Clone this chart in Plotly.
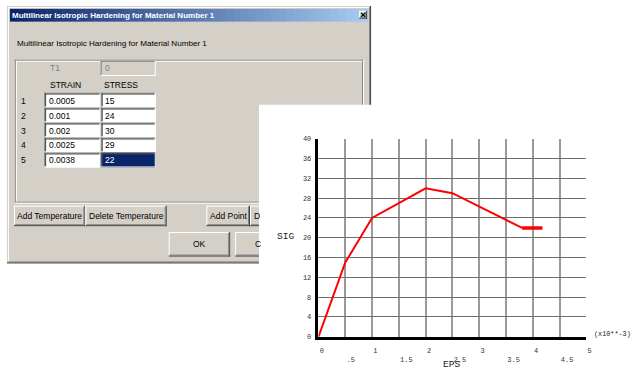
import plotly.graph_objects as go

# ---------------- data ----------------
strain = [0.0, 0.0005, 0.001, 0.002, 0.0025, 0.0038]
stress = [0, 15, 24, 30, 29, 22]
ext_strain = [0.0038, 0.00418]
ext_stress = [22, 22]

table_rows = ["1", "2", "3", "4", "5"]
table_strain = ["0.0005", "0.001", "0.002", "0.0025", "0.0038"]
table_stress = ["15", "24", "30", "29", "22"]

x_tickvals = [0, 0.5, 1, 1.5, 2, 2.5, 3, 3.5, 4, 4.5, 5]
x_ticktext = ["0", "<br>.5", "1", "<br>1.5", "2", "<br>2.5", "3", "<br>3.5", "4", "<br>4.5", "5"]
y_tickvals = [0, 4, 8, 12, 16, 20, 24, 28, 32, 36, 40]
y_ticktext = ["0", "4", "8", "12", "16", "20", "24", "28", "32", "36", "40"]

title_text = "Multilinear Isotropic Hardening for Material Number 1"

# ---------------- helpers (pixel -> paper) ----------------
W, H = 636, 377
def X(px): return px / W
def Y(py): return 1 - py / H

shapes = []
annotations = []
BG = "#d4d0c8"
DK = "#404040"
MD = "#808080"

def rect(x0, y0, x1, y1, fill):
    shapes.append(dict(type="rect", xref="paper", yref="paper", x0=X(x0), x1=X(x1),
                       y0=Y(y1), y1=Y(y0), fillcolor=fill, line=dict(width=0), layer="below"))

def line(x0, y0, x1, y1, color, w=1):
    shapes.append(dict(type="line", xref="paper", yref="paper", x0=X(x0), y0=Y(y0),
                       x1=X(x1), y1=Y(y1), line=dict(color=color, width=w), layer="below"))

def raised(x0, y0, x1, y1):
    rect(x0, y0, x1, y1, BG)
    line(x0, y0 + 0.5, x1, y0 + 0.5, "white")
    line(x0 + 0.5, y0, x0 + 0.5, y1, "white")
    line(x0, y1 - 0.5, x1, y1 - 0.5, DK)
    line(x1 - 0.5, y0, x1 - 0.5, y1, DK)
    line(x0 + 1, y1 - 1.5, x1 - 1, y1 - 1.5, MD)
    line(x1 - 1.5, y0 + 1, x1 - 1.5, y1 - 1, MD)

def sunken(x0, y0, x1, y1, fill):
    rect(x0, y0, x1, y1, fill)
    line(x0, y0 + 0.5, x1, y0 + 0.5, MD)
    line(x0 + 0.5, y0, x0 + 0.5, y1, MD)
    line(x0 + 1, y0 + 1.5, x1 - 1, y0 + 1.5, DK)
    line(x0 + 1.5, y0 + 1, x0 + 1.5, y1 - 1, DK)
    line(x0, y1 - 0.5, x1, y1 - 0.5, "white")
    line(x1 - 0.5, y0, x1 - 0.5, y1, "white")

def text(px, py, s, size=8.5, color="black", anchor="left", bold=False, family="Liberation Sans, Arial, sans-serif"):
    annotations.append(dict(xref="paper", yref="paper", x=X(px), y=Y(py), text=("<b>%s</b>" % s) if bold else s,
                            showarrow=False, xanchor=anchor, yanchor="middle",
                            font=dict(size=size, color=color, family=family)))

# ---------------- dialog window ----------------
rect(7, 2, 374, 265, BG)
line(7, 2.5, 374, 2.5, BG)
line(8, 3.5, 373, 3.5, "white")
line(8.5, 3, 8.5, 264, "white")
line(7, 264.5, 374, 264.5, DK)
line(373.5, 2, 373.5, 265, DK)
line(8, 263.5, 373, 263.5, MD)
line(372.5, 3, 372.5, 264, MD)

# title bar gradient
n = 48
x_start, x_end = 10, 371
c0 = (10, 36, 106)
c1 = (166, 202, 240)
for i in range(n):
    t = i / (n - 1)
    col = "rgb(%d,%d,%d)" % tuple(round(c0[k] + (c1[k] - c0[k]) * t) for k in range(3))
    xa = x_start + (x_end - x_start) * i / n
    xb = x_start + (x_end - x_start) * (i + 1) / n + 0.6
    rect(xa, 5, min(xb, x_end), 18, col)
text(10, 11.5, title_text, size=8, color="white", bold=True)
# close button
raised(362, 7, 370, 15)
line(364, 9, 368, 13, "black", 1.2)
line(368, 9, 364, 13, "black", 1.2)

text(15, 40, title_text, size=8.1)

# group box (etched)
line(15.5, 57, 15.5, 203, MD)
line(16.5, 58, 16.5, 202, "white")
line(15, 57.5, 366, 57.5, MD)
line(16, 58.5, 365, 58.5, "white")
line(365.5, 57, 365.5, 203, MD)
line(366.5, 57, 366.5, 204, "white")
line(15, 202.5, 366, 202.5, MD)
line(15, 203.5, 367, 203.5, "white")

# T1 / disabled field
text(48, 65, "T1", color=MD)
rect(101.5, 58, 157, 73.5, BG)
line(101.5, 58.5, 157, 58.5, MD)
line(102, 58, 102, 73.5, MD)
line(101.5, 73, 157, 73, "white")
line(156.5, 58, 156.5, 73.5, "white")
text(104, 65.5, "0", color=MD)

text(48, 83, "STRAIN")
text(103, 83, "STRESS")

row_top0 = 90.5
pitch = 15.3
for i, (r, s, t) in enumerate(zip(table_rows, table_strain, table_stress)):
    top = row_top0 + i * pitch
    bot = top + pitch
    sunken(44.5, top, 101.5, bot, "white")
    last = (i == len(table_rows) - 1)
    sunken(101.5, top, 157, bot, "#0a246a" if last else "white")
    cy = top + pitch / 2 + 0.5
    text(19, cy, r)
    text(47, cy, s)
    text(104, cy, t, color="white" if last else "black")

# buttons
raised(14, 206, 86, 227)
text(50, 216.5, "Add Temperature", anchor="center")
raised(86, 206, 168, 227)
text(127, 216.5, "Delete Temperature", anchor="center")
raised(208, 206, 252, 227)
text(230, 216.5, "Add Point", anchor="center")
raised(252, 206, 300, 227)
raised(170, 233, 232, 258)
text(201, 245.5, "OK", anchor="center")
raised(237, 233, 300, 258)

# white plot panel covering the dialog
rect(261, 103, 637, 378, "white")
text(254, 216.5, "D")
text(255, 245.5, "C")

# ---------------- plot ----------------
xs = [v * 1000 for v in strain]
ext_xs = [v * 1000 for v in ext_strain]
MONO = "Liberation Mono, Courier New, monospace"

fig = go.Figure()
fig.add_trace(go.Scatter(x=xs, y=stress, mode="lines", line=dict(color="#ff0000", width=2),
                         hoverinfo="skip", showlegend=False))
fig.add_trace(go.Scatter(x=ext_xs, y=ext_stress, mode="lines", line=dict(color="#ff0000", width=3.5),
                         hoverinfo="skip", showlegend=False))

annotations.append(dict(xref="paper", yref="paper", x=X(287.5), y=Y(238), text="SIG", showarrow=False,
                        xanchor="center", yanchor="middle", font=dict(size=9.5, family=MONO, color="#222")))
annotations.append(dict(xref="paper", yref="paper", x=X(455.5), y=Y(376), text="EPS", showarrow=False,
                        xanchor="center", yanchor="bottom", font=dict(size=9.5, family=MONO, color="#222")))
annotations.append(dict(xref="paper", yref="paper", x=X(597), y=Y(337.5), text="(x10**-3)", showarrow=False,
                        xanchor="left", yanchor="middle", font=dict(size=6.8, family=MONO, color="#222")))

fig.update_layout(
    width=W, height=H,
    margin=dict(l=0, r=0, t=0, b=0),
    paper_bgcolor="white", plot_bgcolor="white",
    shapes=shapes, annotations=annotations,
    xaxis=dict(domain=[X(321), X(591)], range=[0, 5], tickvals=x_tickvals, ticktext=x_ticktext,
               showgrid=True, gridcolor="#9a9a9a", gridwidth=1.6, zeroline=False,
               showline=True, linecolor="black", linewidth=2.5,
               ticks="", ticklabelposition="outside right", ticklabelstandoff=5,
               tickfont=dict(size=7, family=MONO, color="#333")),
    yaxis=dict(domain=[Y(340), Y(137.7)], range=[0, 40], tickvals=y_tickvals, ticktext=y_ticktext,
               showgrid=True, gridcolor="#6e6e6e", gridwidth=1.2, zeroline=False,
               showline=True, linecolor="black", linewidth=2.5,
               ticks="", ticklabelstandoff=3,
               tickfont=dict(size=7, family=MONO, color="#333")),
)

fig.write_html("out.html", config={"displayModeBar": False},
               post_script="document.body.style.margin='0';document.body.style.overflow='hidden';")
